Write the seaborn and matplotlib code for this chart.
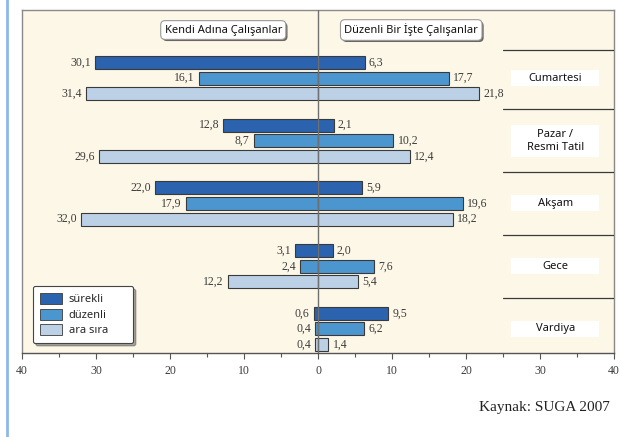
import matplotlib
matplotlib.use("Agg")
import matplotlib.pyplot as plt
import matplotlib.patheffects as pe
from matplotlib.patches import Rectangle
from matplotlib.lines import Line2D
from matplotlib.ticker import MultipleLocator, FuncFormatter
import seaborn as sns
import pandas as pd

# Working-time categories (top to bottom)
categories = ["Cumartesi", "Pazar /\nResmi Tatil", "Akşam", "Gece", "Vardiya"]
series = ["sürekli", "düzenli", "ara sıra"]

# Self-employed (left side), per category: sürekli, düzenli, ara sıra
self_employed = {
    "sürekli":  [30.1, 12.8, 22.0, 3.1, 0.6],
    "düzenli":  [16.1, 8.7, 17.9, 2.4, 0.4],
    "ara sıra": [31.4, 29.6, 32.0, 12.2, 0.4],
}
# Regular employees (right side)
employees = {
    "sürekli":  [6.3, 2.1, 5.9, 2.0, 9.5],
    "düzenli":  [17.7, 10.2, 19.6, 7.6, 6.2],
    "ara sıra": [21.8, 12.4, 18.2, 5.4, 1.4],
}

colors = ["#2B63AF", "#4C96D0", "#BDD1E6"]
bg = "#FDF7E7"

rows = []
for s in series:
    for i, c in enumerate(categories):
        rows.append({"kategori": c, "seri": s,
                     "sol": -self_employed[s][i], "sag": employees[s][i]})
df = pd.DataFrame(rows)

sns.set_theme(style="white")
plt.rcParams["font.family"] = ["Noto Sans", "DejaVu Sans"]

fig = plt.figure(figsize=(6.2, 4.37), dpi=100)
fig.patch.set_facecolor("white")
ax = fig.add_axes([22 / 620, 1 - 352.7 / 437, 592 / 620, 342.7 / 437])
ax.set_facecolor(bg)

common = dict(y="kategori", hue="seri", order=categories, hue_order=series,
              palette=colors, orient="h", width=0.75, gap=0.17,
              edgecolor="#3a3a3a", linewidth=0.8, saturation=1, ax=ax)
sns.barplot(data=df, x="sol", legend=True, **common)
handles, labels = ax.get_legend_handles_labels()
sns.barplot(data=df, x="sag", legend=False, **common)

# value labels, decimal comma
serif = "Liberation Serif"
for cont in ax.containers:
    vals = [abs(r.get_width()) for r in cont]
    ax.bar_label(cont, labels=[f"{v:.1f}".replace(".", ",") for v in vals],
                 padding=3, fontsize=8.5, family=serif, color="#3c3c3c")

ax.set_xlim(-40, 40)
ax.set_ylim(4.378, -1.084)
ax.set_xlabel("")
ax.set_ylabel("")
ax.set_yticks([])

ax.xaxis.set_major_locator(MultipleLocator(10))
ax.xaxis.set_minor_locator(MultipleLocator(5))
ax.xaxis.set_major_formatter(FuncFormatter(lambda v, p: f"{abs(v):.0f}"))
ax.tick_params(axis="x", which="major", bottom=True, length=4, width=0.8,
               color="#555555", labelsize=8.5, labelcolor="#3c3c3c", pad=5)
ax.tick_params(axis="x", which="minor", bottom=True, length=3, width=0.8,
               color="#555555")
for lab in ax.get_xticklabels():
    lab.set_family(serif)

for sp in ax.spines.values():
    sp.set_color("#8a8a8a")
    sp.set_linewidth(1.0)
ax.spines["bottom"].set_color("#555555")

# zero line drawn over the bars
ax.axvline(0, color="#707070", lw=1.0, zorder=5)

# category separators and label boxes at the right
for yb in [-0.45, 0.5, 1.5, 2.5, 3.5]:
    ax.plot([25, 40], [yb, yb], color="#3a3a3a", lw=0.9, zorder=3)
for i, c in enumerate(categories):
    h = 0.51 if "\n" in c else 0.255
    ax.add_patch(Rectangle((26.1, i - h / 2), 11.9, h, facecolor="white",
                           edgecolor="none", zorder=3))
    ax.text(32.05, i, c, ha="center", va="center", fontsize=8,
            color="#111111", zorder=4, linespacing=1.3)

# group headers
for xh, txt in [(-12.8, "Kendi Adına Çalışanlar"),
                (12.6, "Düzenli Bir İşte Çalışanlar")]:
    t = ax.text(xh, -0.765, txt, ha="center", va="center", fontsize=8,
                color="#111111", zorder=6,
                bbox=dict(boxstyle="round,pad=0.35,rounding_size=0.4",
                          facecolor="white", edgecolor="#9a9a9a", lw=0.8))
    t.get_bbox_patch().set_path_effects(
        [pe.withSimplePatchShadow(offset=(1.2, -1.2), shadow_rgbFace="#444444",
                                  alpha=0.8)])

leg = ax.legend(handles, labels, loc="lower left",
                bbox_to_anchor=(0.0186, 0.028, 0.169, 0.16), mode="expand",
                borderaxespad=0, frameon=True, fancybox=True, shadow=True,
                fontsize=8, handlelength=2.0, handleheight=1.15,
                labelspacing=0.3, handletextpad=0.6, borderpad=0.6,
                facecolor="white", edgecolor="#444444")
leg.get_frame().set_linewidth(0.8)
for hnd in leg.legend_handles:
    hnd.set_edgecolor("#3a3a3a")
    hnd.set_linewidth(0.6)

# blue margin rule at the left and source note
fig.add_artist(Line2D([7 / 620, 7 / 620], [0, 1], color="#8DB9E8", lw=2.0))
fig.text(610 / 620, 1 - 407 / 437, "Kaynak: SUGA 2007", ha="right",
         va="center", family=serif, fontsize=11, color="#222222")

fig.savefig("out.png", dpi=100, facecolor="white")
